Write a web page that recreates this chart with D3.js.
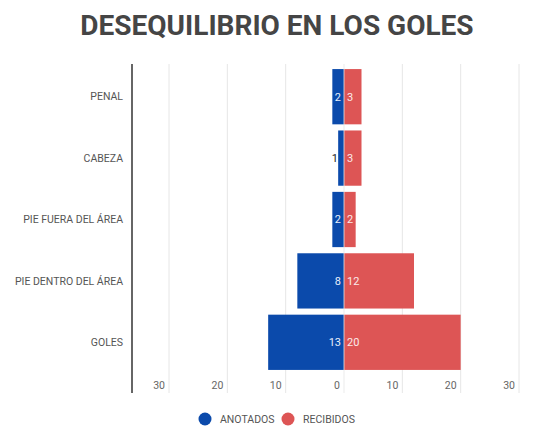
<!DOCTYPE html>
<html>
<head>
<meta charset="utf-8">
<script src="https://cdn.jsdelivr.net/npm/d3@7"></script>
<style>
  body { margin: 0; background: #fff; }
  text { font-family: Roboto, "Noto Sans", sans-serif; }
</style>
</head>
<body>
<div id="chart"></div>
<script>
const categories = ["PENAL", "CABEZA", "PIE FUERA DEL ÁREA", "PIE DENTRO DEL ÁREA", "GOLES"];
const anotados = [2, 1, 2, 8, 13];
const recibidos = [3, 3, 2, 12, 20];
const tickValues = [-30, -20, -10, 0, 10, 20, 30];
const seriesNames = ["ANOTADOS", "RECIBIDOS"];

const width = 543, height = 437;
const blue = "#0b4aab", red = "#dd5555";

const svg = d3.select("#chart").append("svg")
    .attr("width", width)
    .attr("height", height);

svg.append("text")
    .attr("x", 277)
    .attr("y", 35)
    .attr("text-anchor", "middle")
    .attr("font-size", 28)
    .attr("font-weight", "bold")
    .attr("fill", "#454545")
    .text("DESEQUILIBRIO EN LOS GOLES");

const x = d3.scaleLinear().domain([-30, 30]).range([169, 519]);
const y = d3.scaleBand().domain(categories).range([66, 373]).paddingInner(0.1).paddingOuter(0.05);

const plotTop = 64, plotBottom = 393, plotLeft = 132;

// gridlines (except zero, drawn above the bars)
svg.append("g").selectAll("line")
    .data(tickValues.filter(d => d !== 0))
    .join("line")
    .attr("x1", d => x(d)).attr("x2", d => x(d))
    .attr("y1", plotTop).attr("y2", plotBottom)
    .attr("stroke", "#e6e6e6");

const rows = categories.map((c, i) => ({ cat: c, a: anotados[i], r: recibidos[i] }));

svg.append("g").selectAll("rect")
    .data(rows)
    .join("rect")
    .attr("x", d => x(-d.a))
    .attr("width", d => x(0) - x(-d.a))
    .attr("y", d => y(d.cat))
    .attr("height", y.bandwidth())
    .attr("fill", blue);

svg.append("g").selectAll("rect")
    .data(rows)
    .join("rect")
    .attr("x", x(0))
    .attr("width", d => x(d.r) - x(0))
    .attr("y", d => y(d.cat))
    .attr("height", y.bandwidth())
    .attr("fill", red);

svg.append("line")
    .attr("x1", x(0)).attr("x2", x(0))
    .attr("y1", plotTop).attr("y2", plotBottom)
    .attr("stroke", "#e6e6e6")
    .attr("stroke-opacity", 0.8);

// value labels
svg.append("g").selectAll("text")
    .data(rows)
    .join("text")
    .attr("x", d => x(0) - 3)
    .attr("y", d => y(d.cat) + y.bandwidth() / 2)
    .attr("dy", "0.35em")
    .attr("text-anchor", "end")
    .attr("font-size", 11)
    .attr("fill", d => (x(0) - x(-d.a)) > 9 ? "#e8eefa" : "#222")
    .attr("dx", d => (x(0) - x(-d.a)) > 9 ? 0 : -3)
    .text(d => d.a);

svg.append("g").selectAll("text")
    .data(rows)
    .join("text")
    .attr("x", x(0) + 3)
    .attr("y", d => y(d.cat) + y.bandwidth() / 2)
    .attr("dy", "0.35em")
    .attr("font-size", 11)
    .attr("fill", "#fbeaea")
    .text(d => d.r);

// category labels
svg.append("g").selectAll("text")
    .data(categories)
    .join("text")
    .attr("x", 123)
    .attr("y", d => y(d) + y.bandwidth() / 2)
    .attr("dy", "0.35em")
    .attr("text-anchor", "end")
    .attr("font-size", 10.5)
    .attr("fill", "#555")
    .text(d => d);

// left axis line
svg.append("line")
    .attr("x1", plotLeft).attr("x2", plotLeft)
    .attr("y1", plotTop).attr("y2", plotBottom)
    .attr("stroke", "#666")
    .attr("stroke-width", 2);

// x tick labels
svg.append("g").selectAll("text")
    .data(tickValues)
    .join("text")
    .attr("x", d => x(d) - 4)
    .attr("y", 385)
    .attr("dy", "0.35em")
    .attr("text-anchor", "end")
    .attr("font-size", 10.5)
    .attr("fill", "#666")
    .text(d => Math.abs(d));

// legend
const legend = svg.append("g").selectAll("g")
    .data(seriesNames)
    .join("g")
    .attr("transform", (d, i) => `translate(${[205, 288][i]},419)`);

legend.append("circle")
    .attr("r", 6.5)
    .attr("fill", (d, i) => [blue, red][i]);

legend.append("text")
    .attr("x", 15)
    .attr("dy", "0.35em")
    .attr("font-size", 10.5)
    .attr("fill", "#555")
    .text(d => d);
</script>
</body>
</html>
